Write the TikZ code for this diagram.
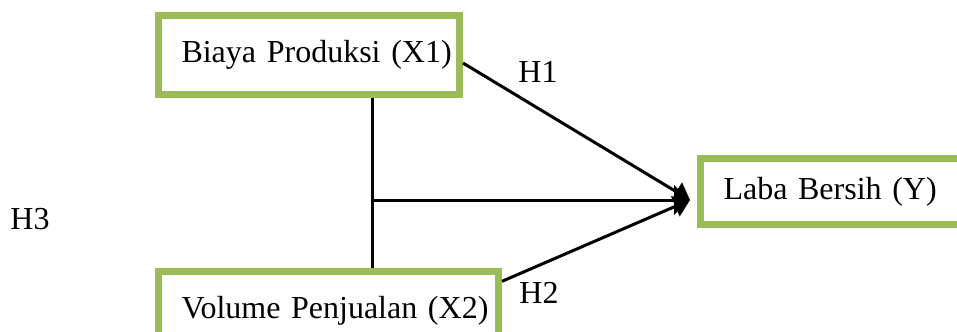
\documentclass[tikz,border=0pt]{standalone}
\usepackage{fontspec}
\setmainfont{Liberation Serif}
\usetikzlibrary{arrows.meta}
\definecolor{olivegreen}{HTML}{9BBB59}

\begin{document}
\begin{tikzpicture}[x=0.75pt, y=-0.75pt]
	\tikzstyle{factor} = [ draw=olivegreen, line width=5.25pt, rectangle, inner xsep=17.25pt, inner ysep=0pt, align=left, font={\fontsize{24}{28}\selectfont} ];
	\tikzstyle{hyp} = [ inner sep=0pt, font={\fontsize{24}{28}\selectfont} ];
	\tikzstyle{link} = [ line width=2.25pt ];
	\tikzstyle{effect} = [ -{Triangle[length=12pt, width=16pt]}, line width=2.25pt ];
	\tikzstyle{joint} = [ -{Triangle[length=12pt, width=22pt]}, line width=2.25pt ];

	\clip (0,0) rectangle (957,332);

	% variables
	\node[factor, text width=191.25pt, minimum height=59.25pt] (X1) at (309,55) {\mbox{Biaya Produksi (X1)}};
	\node[factor, text width=220.5pt, minimum height=59.25pt] (X2) at (328.5,311) {\mbox{Volume Penjualan (X2)}};
	\node[factor, text width=163.875pt, minimum height=49.5pt] (Y) at (832.75,191.5) {\mbox{Laba Bersih (Y)}};

	\coordinate (tip) at (690,200);
	\coordinate (join) at (372,200);

	% hypotheses
	\draw[effect] ([yshift=-6pt]X1.east) to (tip);
	\draw[effect] ([yshift=-10pt]X2.north east) to (tip);
	\draw[link] (join |- X1.south) to (join |- X2.north);
	\draw[joint] (join) to (tip);

	\node[hyp] (H1) at (538,72) {H1};
	\node[hyp] (H2) at (539,292.5) {H2};
	\node[hyp] (H3) at (30,219) {H3};
\end{tikzpicture}
\end{document}
